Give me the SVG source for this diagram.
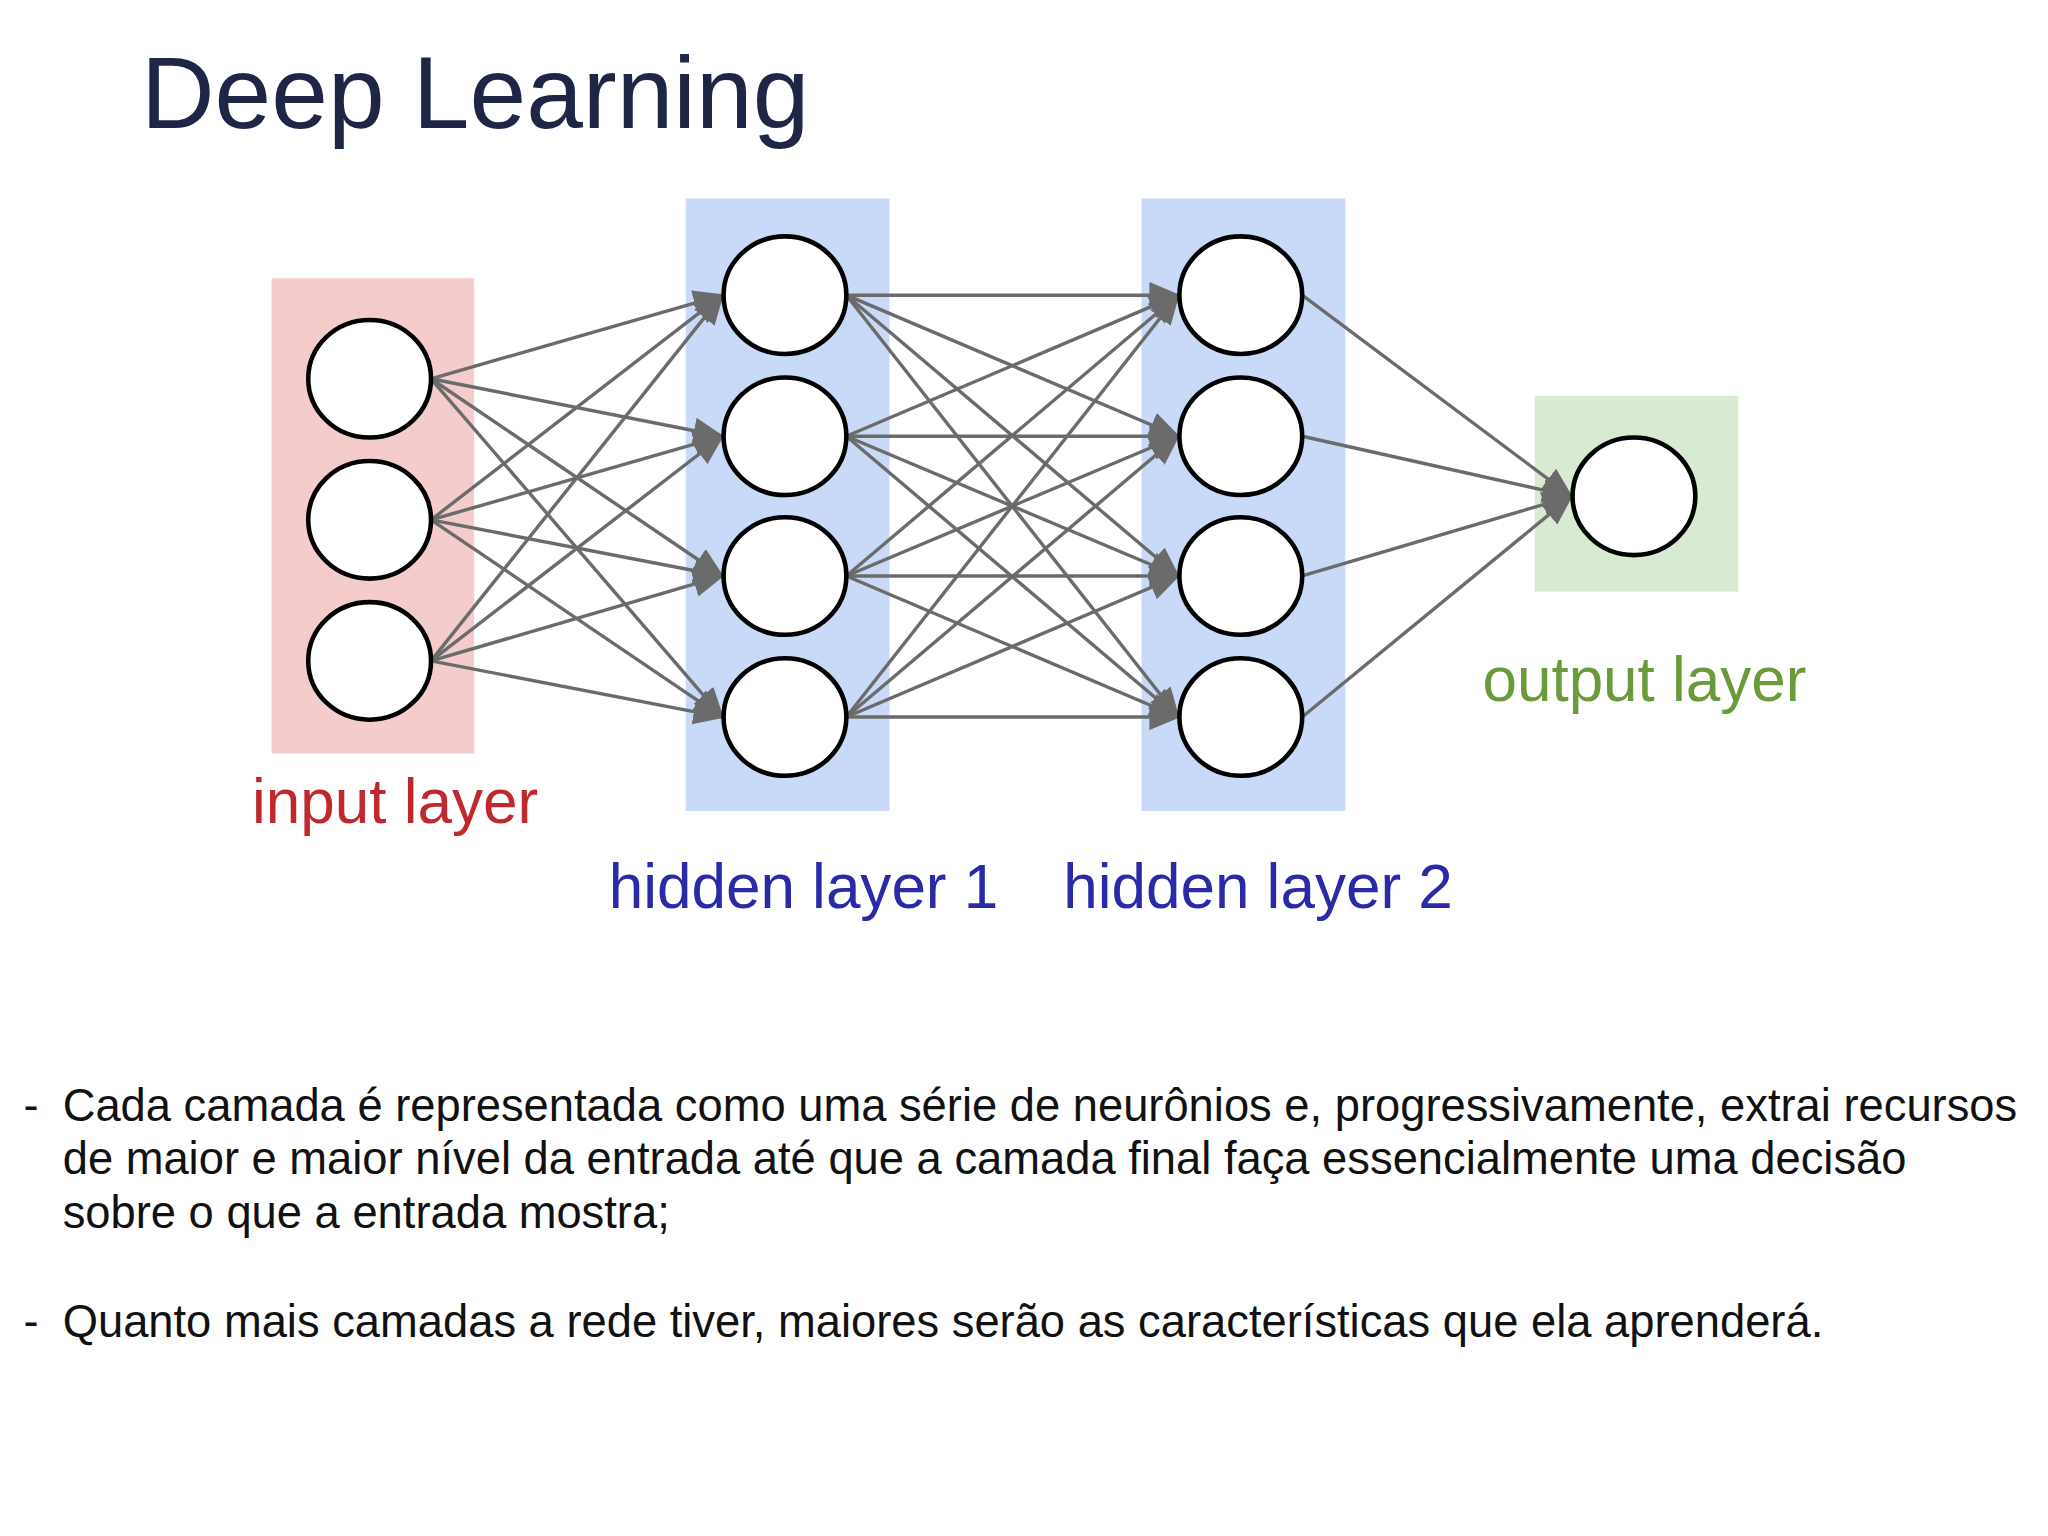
<svg xmlns="http://www.w3.org/2000/svg" width="2048" height="1536" viewBox="0 0 2048 1536">
<style>
.n{fill:#fff;stroke:#000;stroke-width:3.5}
.c line{stroke:#6b6b6b;stroke-width:2.6;marker-end:url(#ah)}
.b{font-family:"Liberation Sans",Arial,sans-serif;font-size:34.7px;fill:#111}
.l{font-family:"Liberation Sans",Arial,sans-serif;font-size:47.5px}
</style>
<defs><marker id="ah" markerUnits="userSpaceOnUse" markerWidth="24" markerHeight="20" refX="22" refY="10" orient="auto"><path d="M0,0 L24,10 L0,20 Z" fill="#6b6b6b"/></marker></defs>
<rect width="2048" height="1536" fill="#fff"/>
<g transform="scale(1.3061)">
<text x="108" y="98" font-family="'Liberation Sans',Arial,sans-serif" font-size="78" fill="#1f2544">Deep Learning</text>
<rect x="208" y="213" width="155" height="364" fill="#f4cccc"/>
<rect x="525" y="152" width="156" height="469" fill="#c9daf8"/>
<rect x="874" y="152" width="156" height="469" fill="#c9daf8"/>
<rect x="1175" y="303" width="156" height="150" fill="#d9ead3"/>
<g class="c" id="connectors">
<line x1="330" y1="290" x2="553" y2="226"/><line x1="330" y1="290" x2="553" y2="334"/><line x1="330" y1="290" x2="553" y2="441"/><line x1="330" y1="290" x2="553" y2="549"/>
<line x1="330" y1="398" x2="553" y2="226"/><line x1="330" y1="398" x2="553" y2="334"/><line x1="330" y1="398" x2="553" y2="441"/><line x1="330" y1="398" x2="553" y2="549"/>
<line x1="330" y1="506" x2="553" y2="226"/><line x1="330" y1="506" x2="553" y2="334"/><line x1="330" y1="506" x2="553" y2="441"/><line x1="330" y1="506" x2="553" y2="549"/>
<line x1="648" y1="226" x2="902" y2="226"/><line x1="648" y1="226" x2="902" y2="334"/><line x1="648" y1="226" x2="902" y2="441"/><line x1="648" y1="226" x2="902" y2="549"/>
<line x1="648" y1="334" x2="902" y2="226"/><line x1="648" y1="334" x2="902" y2="334"/><line x1="648" y1="334" x2="902" y2="441"/><line x1="648" y1="334" x2="902" y2="549"/>
<line x1="648" y1="441" x2="902" y2="226"/><line x1="648" y1="441" x2="902" y2="334"/><line x1="648" y1="441" x2="902" y2="441"/><line x1="648" y1="441" x2="902" y2="549"/>
<line x1="648" y1="549" x2="902" y2="226"/><line x1="648" y1="549" x2="902" y2="334"/><line x1="648" y1="549" x2="902" y2="441"/><line x1="648" y1="549" x2="902" y2="549"/>
<line x1="997" y1="226" x2="1203" y2="380"/><line x1="997" y1="334" x2="1203" y2="380"/><line x1="997" y1="441" x2="1203" y2="380"/><line x1="997" y1="549" x2="1203" y2="380"/>
</g>
<g id="in1"><ellipse class="n" cx="283" cy="290" rx="47" ry="45"/></g>
<g id="in2"><ellipse class="n" cx="283" cy="398" rx="47" ry="45"/></g>
<g id="in3"><ellipse class="n" cx="283" cy="506" rx="47" ry="45"/></g>
<g id="h1a"><ellipse class="n" cx="601" cy="226" rx="47" ry="45"/></g>
<g id="h1b"><ellipse class="n" cx="601" cy="334" rx="47" ry="45"/></g>
<g id="h1c"><ellipse class="n" cx="601" cy="441" rx="47" ry="45"/></g>
<g id="h1d"><ellipse class="n" cx="601" cy="549" rx="47" ry="45"/></g>
<g id="h2a"><ellipse class="n" cx="950" cy="226" rx="47" ry="45"/></g>
<g id="h2b"><ellipse class="n" cx="950" cy="334" rx="47" ry="45"/></g>
<g id="h2c"><ellipse class="n" cx="950" cy="441" rx="47" ry="45"/></g>
<g id="h2d"><ellipse class="n" cx="950" cy="549" rx="47" ry="45"/></g>
<g id="out"><ellipse class="n" cx="1251" cy="380" rx="47" ry="45"/></g>
<text class="l" x="193" y="630" fill="#c0282d">input layer</text>
<text class="l" x="466" y="695" fill="#2a2aa8">hidden layer 1</text>
<text class="l" x="814" y="695" fill="#2a2aa8">hidden layer 2</text>
<text class="l" x="1135" y="537" fill="#6a9a3a">output layer</text>
<text class="b" x="18" y="858">-</text>
<text class="b" x="48" y="858">Cada camada é representada como uma série de neurônios e, progressivamente, extrai recursos</text>
<text class="b" x="48" y="899">de maior e maior nível da entrada até que a camada final faça essencialmente uma decisão</text>
<text class="b" x="48" y="940">sobre o que a entrada mostra;</text>
<text class="b" x="18" y="1024">-</text>
<text class="b" x="48" y="1024">Quanto mais camadas a rede tiver, maiores serão as características que ela aprenderá.</text>
</g>
</svg>
